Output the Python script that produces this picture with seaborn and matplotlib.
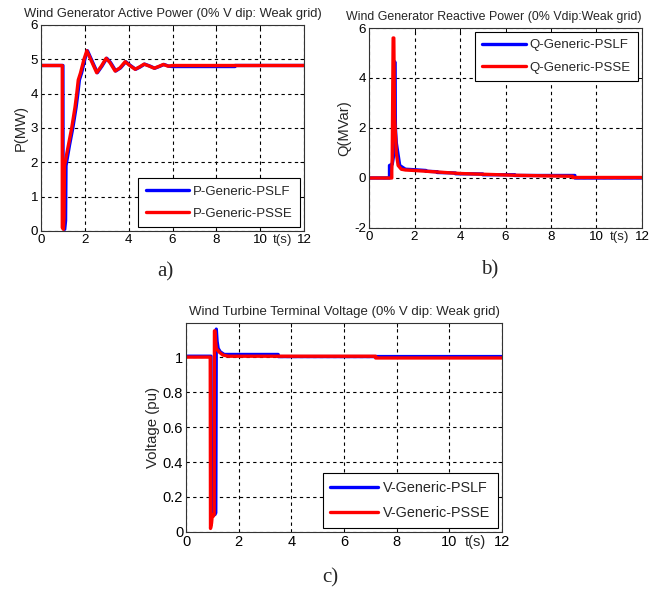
import matplotlib
matplotlib.use("Agg")
import matplotlib.pyplot as plt
import seaborn as sns
import pandas as pd

# ---- panel a: active power ----
p_pslf_t = [0, 1.0, 1.01, 1.08, 1.12, 1.14, 1.3, 1.45, 1.6, 1.68, 1.75, 1.85, 2.0, 2.12,
            2.33, 2.57, 2.78, 3.0, 3.18, 3.41, 3.63, 3.87, 4.08, 4.32, 4.53, 4.73, 4.98,
            5.19, 5.43, 5.61, 5.83, 6.0, 8.85, 8.85, 12]
p_pslf = [4.82, 4.82, 0.1, 0.05, 0.3, 1.9, 2.5, 3.0, 3.6, 4.0, 4.4, 4.6, 5.0, 5.25,
          4.95, 4.61, 4.8, 5.03, 4.9, 4.66, 4.75, 4.93, 4.82, 4.71, 4.78, 4.86, 4.8,
          4.74, 4.8, 4.85, 4.8, 4.79, 4.79, 4.82, 4.82]
p_psse_t = [0, 0.97, 0.97, 1.02, 1.05, 1.07, 1.25, 1.4, 1.55, 1.63, 1.7, 1.8, 1.96, 2.09,
            2.3, 2.54, 2.75, 2.97, 3.15, 3.38, 3.6, 3.84, 4.05, 4.29, 4.5, 4.7, 4.95,
            5.16, 5.4, 5.58, 5.8, 6.0, 12]
p_psse = [4.82, 4.82, 0.1, 0.05, 0.4, 1.9, 2.5, 3.0, 3.6, 4.0, 4.4, 4.6, 5.0, 5.25,
          4.95, 4.61, 4.8, 5.03, 4.9, 4.66, 4.75, 4.93, 4.82, 4.71, 4.78, 4.86, 4.8,
          4.74, 4.8, 4.85, 4.8, 4.82, 4.82]

# ---- panel b: reactive power ----
q_pslf_t = [0, 0.9, 0.9, 1.02, 1.1, 1.13, 1.16, 1.2, 1.25, 1.3, 1.35, 1.6, 2.0, 2.5, 2.5,
            3.0, 3.0, 3.8, 3.8, 5.0, 5.0, 6.4, 6.4, 9.05, 9.05, 12]
q_pslf = [0, 0, 0.5, 0.55, 1.0, 4.65, 2.0, 1.4, 1.1, 0.8, 0.5, 0.35, 0.33, 0.3, 0.27,
          0.25, 0.22, 0.2, 0.17, 0.16, 0.13, 0.13, 0.1, 0.1, 0.0, 0.0]
q_psse_t = [0, 1.0, 1.0, 1.02, 1.06, 1.09, 1.12, 1.16, 1.2, 1.28, 1.42, 1.6, 2.0, 3.0,
            4.0, 5.0, 6.4, 7.5, 8.95, 8.95, 12]
q_psse = [0, 0, 0.3, 0.8, 5.6, 5.6, 2.5, 1.75, 1.0, 0.5, 0.35, 0.32, 0.3, 0.24,
          0.18, 0.15, 0.11, 0.09, 0.07, 0.02, 0.02]

# ---- panel c: terminal voltage ----
v_pslf_t = [0, 0.95, 0.97, 1.0, 1.1, 1.13, 1.15, 1.18, 1.22, 1.3, 1.45, 3.5, 3.5, 12]
v_pslf = [1.005, 1.005, 0.12, 0.1, 0.1, 0.11, 1.16, 1.09, 1.05, 1.03, 1.015, 1.015,
          1.003, 1.003]
v_psse_t = [0, 0.92, 0.93, 0.97, 1.0, 1.04, 1.07, 1.08, 1.1, 1.12, 1.15, 1.25, 1.4, 1.6,
            7.2, 7.2, 12]
v_psse = [1.0, 1.0, 0.02, 0.05, 0.1, 0.09, 0.1, 1.15, 1.15, 1.1, 1.05, 1.03, 1.012,
          1.005, 1.005, 0.995, 0.995]


def frame(t1, y1, n1, t2, y2, n2):
    a = pd.DataFrame({"t": t1, "y": y1, "series": n1})
    b = pd.DataFrame({"t": t2, "y": y2, "series": n2})
    return pd.concat([a, b], ignore_index=True)


sns.set_theme(style="white")
plt.rcParams["font.family"] = ["Liberation Sans", "DejaVu Sans"]

fig = plt.figure(figsize=(6.49, 5.92), dpi=100)

panels = [
    dict(rect=[0.0632, 0.6098, 0.4052, 0.348],
         df=frame(p_pslf_t, p_pslf, "P-Generic-PSLF", p_psse_t, p_psse, "P-Generic-PSSE"),
         title="Wind Generator Active Power (0% V dip: Weak grid)", tsize=9.3, tloc="center",
         ylabel="P(MW)", ylim=(0, 6), yticks=[0, 1, 2, 3, 4, 5, 6],
         loc="lower right", fs=9.6, cap="a)", capxy=(165, 272)),
    dict(rect=[0.5686, 0.6149, 0.4206, 0.3378],
         df=frame(q_pslf_t, q_pslf, "Q-Generic-PSLF", q_psse_t, q_psse, "Q-Generic-PSSE"),
         title="Wind Generator Reactive Power (0% Vdip:Weak grid)", tsize=8.9, tloc="right",
         ylabel="Q(MVar)", ylim=(-2, 6), yticks=[-2, 0, 2, 4, 6],
         loc="upper right", fs=9.6, cap="b)", capxy=(490, 270)),
    dict(rect=[0.2866, 0.1014, 0.4869, 0.353],
         df=frame(v_pslf_t, v_pslf, "V-Generic-PSLF", v_psse_t, v_psse, "V-Generic-PSSE"),
         title="Wind Turbine Terminal Voltage (0% V dip: Weak grid)", tsize=9.5, tloc="center",
         ylabel="Voltage (pu)", ylim=(0, 1.195), yticks=[0, 0.2, 0.4, 0.6, 0.8, 1.0],
         loc="lower right", fs=10.5, cap="c)", capxy=(330, 578)),
]

for p in panels:
    fs = p["fs"]
    ax = fig.add_axes(p["rect"])
    sns.lineplot(data=p["df"], x="t", y="y", hue="series",
                 palette=["#0000ff", "#ff0000"], estimator=None, sort=False,
                 linewidth=2.4, legend=False, ax=ax)
    ax.set_xlim(0, 12)
    ax.set_ylim(*p["ylim"])
    ax.set_xticks([0, 2, 4, 6, 8, 10, 12])
    ax.set_xticklabels(["0", "2", "4", "6", "8", "10", "12"])
    ax.set_yticks(p["yticks"])
    ax.set_yticklabels([f"{v:g}" for v in p["yticks"]])
    ax.tick_params(direction="in", length=3, width=0.7, pad=2, labelsize=fs,
                   colors="black", top=True, right=True)
    ax.grid(True, color="black", linestyle=(0, (3, 3)), linewidth=0.8)
    for s in ax.spines.values():
        s.set_color("#333333")
        s.set_linewidth(0.8)
    ax.set_xlabel("")
    ax.set_ylabel(p["ylabel"], fontsize=min(fs + 1, 10.8), labelpad=2)
    ax.set_title(p["title"], fontsize=p["tsize"], pad=6, loc=p["tloc"])
    ax.annotate("t(s)", xy=(11.0, 0), xycoords=("data", "axes fraction"),
                xytext=(0, -2), textcoords="offset points", ha="center", va="top",
                fontsize=fs)
    leg = ax.legend(handles=ax.get_lines(), labels=list(p["df"]["series"].unique()),
                    loc=p["loc"], fontsize=fs - 0.1, handlelength=3.3, handletextpad=0.3,
                    labelspacing=0.75, borderpad=0.55, fancybox=False, framealpha=1,
                    edgecolor="black", borderaxespad=0.3)
    leg.get_frame().set_linewidth(0.8)
    fig.text(p["capxy"][0] / 649, 1 - p["capxy"][1] / 592, p["cap"],
             family=["Liberation Serif", "DejaVu Serif"], fontsize=15,
             ha="center", va="center")

fig.savefig("out.png", dpi=100)
